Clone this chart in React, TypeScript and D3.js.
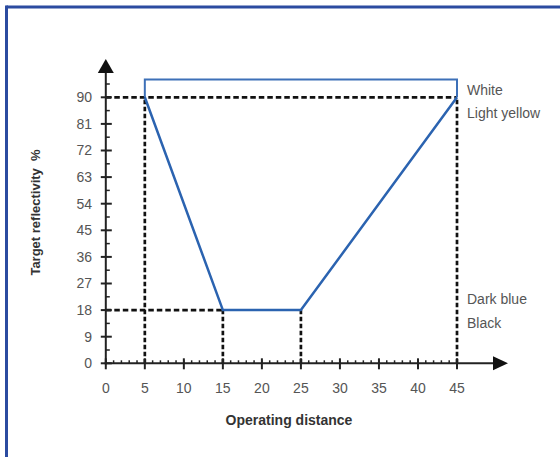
import React from 'react';
import * as d3 from 'd3';

// operating curve (distance -> reflectivity %)
const distances = [5, 15, 25, 45];
const reflectivity = [90, 18, 18, 90];

// "white" bracket above the 90% level
const whiteX = [5, 5, 45, 45];
const whiteY = [90, 96, 96, 90];

// dashed guide lines
const hGuideLevels = [90, 18];
const hGuideEnds = [45, 15];
const vGuideX = [5, 15, 25, 45];
const vGuideTop = [90, 18, 18, 90];

const yTicks = [0, 9, 18, 27, 36, 45, 54, 63, 72, 81, 90];
const yMinor = [4.5, 13.5, 22.5, 31.5, 40.5, 49.5, 58.5, 67.5, 76.5, 85.5, 94.5];
const xTicks = [0, 5, 10, 15, 20, 25, 30, 35, 40, 45];
const xMinor = d3.range(0, 46, 1);

const colourLabels = ['White', 'Light yellow', 'Dark blue', 'Black'];
const colourLevels = [90, 90, 18, 18];

const W = 560;
const H = 457;
const font = 'Liberation Sans, Arial, sans-serif';

export default function App() {
  const x = d3.scaleLinear().domain([0, 45]).range([105.8, 457]);
  const y = d3.scaleLinear().domain([0, 90]).range([363.3, 97.3]);

  const line = d3.line<number>()
    .x((_, i) => x(distances[i]))
    .y((d) => y(d));

  const whiteLine = d3.line<number>()
    .x((_, i) => x(whiteX[i]))
    .y((d) => y(d));

  const x0 = x(0);
  const y0 = y(0);
  const yArrowTip = 59;
  const xArrowTip = 508;
  const labelOffsets = [-7, 16, -11, 13];

  return (
    <svg width={W} height={H} style={{ position: 'absolute', left: 0, top: 0 }} fontFamily={font}>
      <rect width={W} height={H} fill="#fff" />
      {/* frame */}
      <line x1={6.5} y1={7} x2={W} y2={7} stroke="#2b4ba0" strokeWidth={3} />
      <line x1={6.5} y1={5.5} x2={6.5} y2={H} stroke="#2b4ba0" strokeWidth={3} />

      {/* dashed guides */}
      {hGuideLevels.map((v, i) => (
        <line key={'hg' + i} x1={x0} x2={x(hGuideEnds[i])} y1={y(v)} y2={y(v)}
          stroke="#111" strokeWidth={2.7} strokeDasharray="5.5,3" />
      ))}
      {vGuideX.map((d, i) => (
        <line key={'vg' + i} x1={x(d)} x2={x(d)} y1={y0} y2={y(vGuideTop[i])}
          stroke="#111" strokeWidth={2.7} strokeDasharray="4.5,2.5" />
      ))}

      {/* axes */}
      <line x1={x0} x2={x0} y1={y0 + 1} y2={yArrowTip + 10} stroke="#222" strokeWidth={2} />
      <path d={`M${x0},${yArrowTip} L${x0 - 8},${yArrowTip + 14} L${x0 + 8},${yArrowTip + 14} Z`} fill="#111" />
      <line x1={x0 - 1} x2={xArrowTip - 10} y1={y0} y2={y0} stroke="#222" strokeWidth={2} />
      <path d={`M${xArrowTip},${y0} L${xArrowTip - 15},${y0 - 7} L${xArrowTip - 15},${y0 + 7} Z`} fill="#111" />

      {yTicks.map((t) => (
        <g key={'yt' + t}>
          <line x1={x0 - 5} x2={x0 + 6} y1={y(t)} y2={y(t)} stroke="#222" strokeWidth={2} />
          <text x={92} y={y(t)} dy="0.35em" textAnchor="end" fontSize={14} fill="#555">{t}</text>
        </g>
      ))}
      {yMinor.map((t) => (
        <line key={'ym' + t} x1={x0} x2={x0 + 4} y1={y(t)} y2={y(t)} stroke="#222" strokeWidth={1.5} />
      ))}
      {xMinor.map((t) => (
        <line key={'xm' + t} x1={x(t)} x2={x(t)} y1={y0} y2={y0 - 3} stroke="#222" strokeWidth={1.5} />
      ))}
      {xTicks.map((t) => (
        <g key={'xt' + t}>
          <line x1={x(t)} x2={x(t)} y1={y0 - 5} y2={y0 + 6} stroke="#222" strokeWidth={2} />
          <text x={x(t)} y={393} textAnchor="middle" fontSize={14} fill="#555">{t}</text>
        </g>
      ))}

      {/* curves */}
      <path d={whiteLine(whiteY) || ''} fill="none" stroke="#3d70b8" strokeWidth={2} />
      <path d={line(reflectivity) || ''} fill="none" stroke="#2b63b0" strokeWidth={2.5} />

      {/* colour labels */}
      {colourLabels.map((c, i) => (
        <text key={c} x={467} y={y(colourLevels[i]) + labelOffsets[i]} dy="0.35em"
          fontSize={14} fill="#555">{c}</text>
      ))}

      {/* titles */}
      <text x={289} y={425} textAnchor="middle" fontSize={14} fontWeight="bold" fill="#333">
        Operating distance
      </text>
      <text transform="translate(40,212.5) rotate(-90)" textAnchor="middle" fontSize={13}
        fontWeight="bold" fill="#333" style={{ whiteSpace: 'pre' }}>
        {'Target reflectivity  %'}
      </text>
    </svg>
  );
}
